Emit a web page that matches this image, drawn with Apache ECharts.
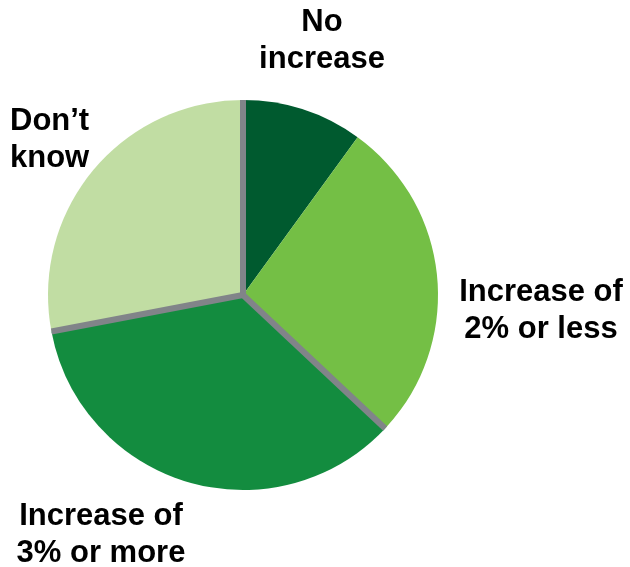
<!DOCTYPE html>
<html>
<head>
<meta charset="utf-8">
<script src="https://cdn.jsdelivr.net/npm/echarts@6/dist/echarts.min.js"></script>
<style>html,body{margin:0;padding:0;background:#fff}#c{width:630px;height:567px}</style>
</head>
<body>
<div id="c"></div>
<script>
// Data
const categories = ['No\nincrease', 'Increase of\n2% or less', 'Increase of\n3% or more', 'Don\u2019t\nknow'];
const values = [10, 27, 35, 28];
const colors = ['#005a2f', '#74bf45', '#138c3f', '#c1dda3'];
// boundaries (start of slice index) that carry a grey separator line
const separatorAt = [0, 2, 3];

// Layout (not data)
const cx = 243, cy = 295, r = 195;
const labelPos = [
  { x: 322, y: 41, align: 'center' },
  { x: 541, y: 311, align: 'center' },
  { x: 101, y: 535, align: 'center' },
  { x: 10, y: 140, align: 'left' }
];

const total = values.reduce((a, b) => a + b, 0);
const cum = [];
let s = 0;
values.forEach(v => { cum.push(s); s += v; });

const lines = separatorAt.map(i => {
  const a = cum[i] / total * 2 * Math.PI;
  return {
    type: 'line',
    silent: true,
    z: 100,
    shape: { x1: cx, y1: cy, x2: cx + r * Math.sin(a), y2: cy - r * Math.cos(a) },
    style: { stroke: '#818489', lineWidth: 6, lineCap: 'butt' }
  };
});

const chart = echarts.init(document.getElementById('c'), null, { renderer: 'canvas' });
chart.setOption({
  animation: false,
  backgroundColor: '#ffffff',
  graphic: { elements: lines },
  series: [{
    type: 'pie',
    center: [cx, cy],
    radius: [0, r],
    startAngle: 90,
    clockwise: true,
    avoidLabelOverlap: false,
    emphasis: { disabled: true },
    itemStyle: { borderWidth: 0 },
    label: {
      show: true,
      formatter: '{b}',
      color: '#000',
      fontFamily: 'Liberation Sans, Arial, sans-serif',
      fontWeight: 'bold',
      fontSize: 31,
      lineHeight: 37
    },
    labelLine: { show: false },
    labelLayout: function (p) {
      const lp = labelPos[p.dataIndex];
      return { x: lp.x, y: lp.y, align: lp.align, verticalAlign: 'middle', hideOverlap: false, moveOverlap: null };
    },
    data: categories.map((c, i) => ({ name: c, value: values[i], itemStyle: { color: colors[i] } }))
  }]
});
</script>
</body>
</html>
